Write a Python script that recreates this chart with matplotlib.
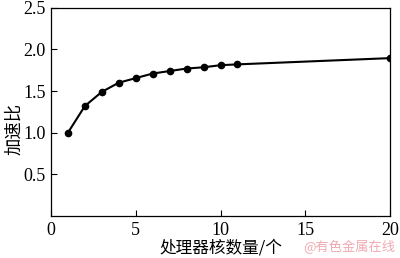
import matplotlib
matplotlib.use("Agg")
import matplotlib.pyplot as plt

# data
cores = [1, 2, 3, 4, 5, 6, 7, 8, 9, 10, 11, 20]
speedup = [1.00, 1.32, 1.49, 1.60, 1.655, 1.71, 1.74, 1.77, 1.785, 1.81, 1.82, 1.895]
xticks = [0, 5, 10, 15, 20]
yticks = [0.5, 1.0, 1.5, 2.0, 2.5]

serif = ["Liberation Serif", "DejaVu Serif"]
cjk = ["Noto Sans CJK SC", "DejaVu Sans"]

fig = plt.figure(figsize=(4.0, 2.58), dpi=100)
ax = fig.add_axes([0.1275, 0.163, 0.8475, 0.807])

ax.plot(cores, speedup, color="black", lw=1.5, marker="o", ms=4.5, zorder=3)

ax.set_xlim(0, 20)
ax.set_ylim(0, 2.5)
ax.set_xticks(xticks)
ax.set_yticks(yticks)
ax.set_xticklabels([str(v) for v in xticks], family=serif, fontsize=13)
ax.set_yticklabels([f"{v:.1f}" for v in yticks], family=serif, fontsize=13)
ax.tick_params(direction="in", length=4, width=0.8, pad=4)
for s in ax.spines.values():
    s.set_linewidth(0.9)

ax.set_xlabel("处理器核数量/个", family=cjk, fontsize=12, labelpad=1)
ax.set_ylabel("加速比", family=cjk, fontsize=12.5, va="center")
ax.yaxis.set_label_coords(-0.11, 0.42)

fig.text(0.988, 0.015, "@有色金属在线", family=cjk, fontsize=9.5,
         color="#f0aab2", ha="right", va="bottom")

fig.savefig("out.png", dpi=100)
